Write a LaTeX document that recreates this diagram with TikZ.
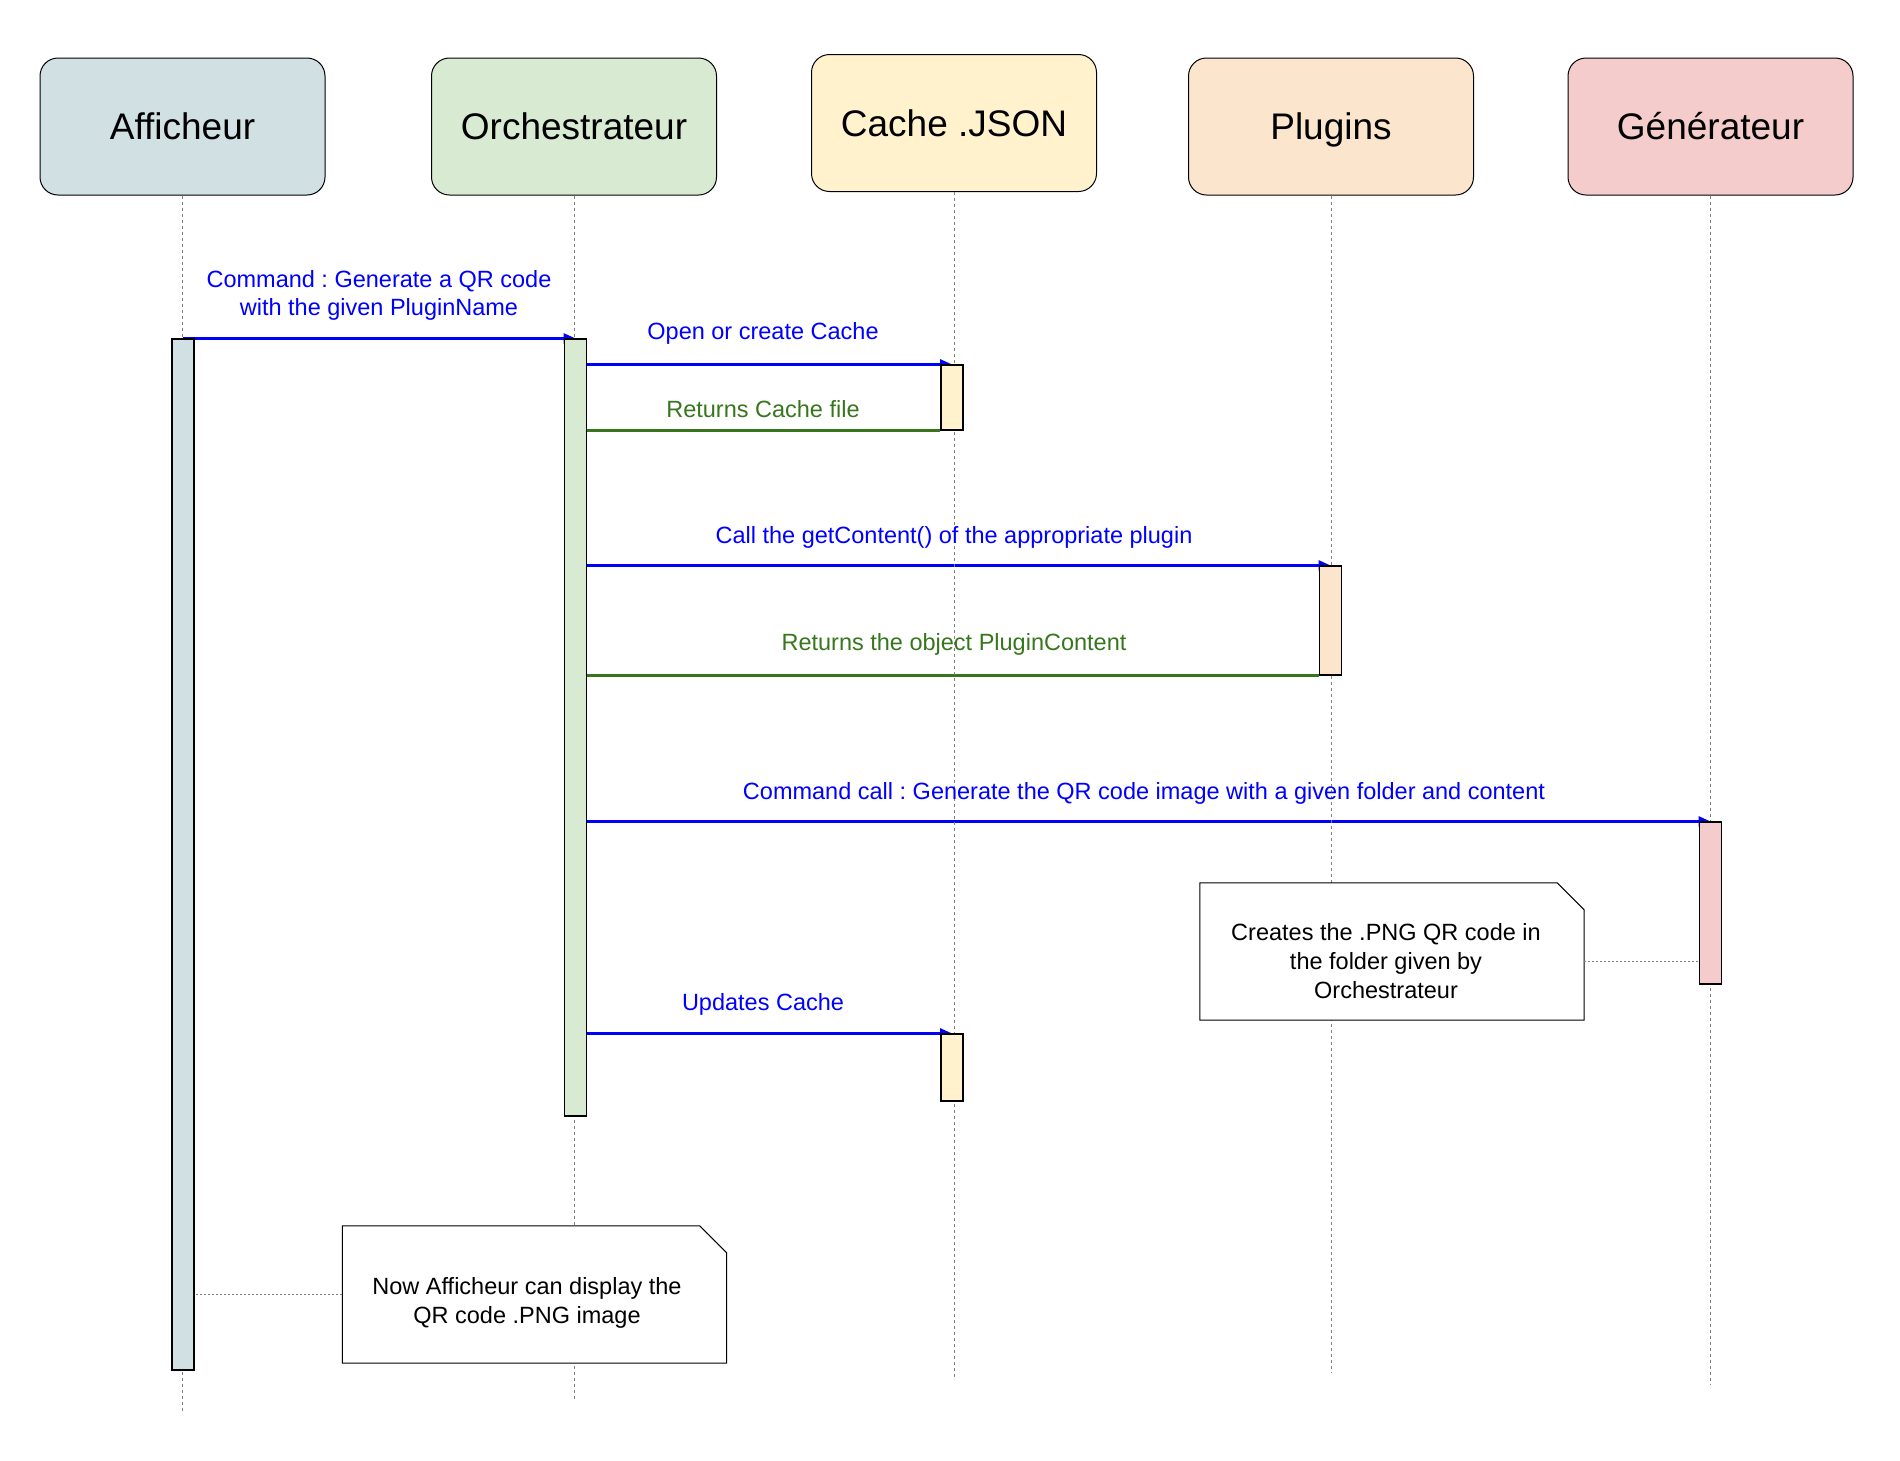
\documentclass[tikz,border=0pt]{standalone}
\usepackage{fontspec}
\setmainfont{Liberation Sans}
\frenchspacing
\usetikzlibrary{positioning,arrows.meta,calc,backgrounds}

\definecolor{affFill}{HTML}{D0E0E3}
\definecolor{orchFill}{HTML}{D9EAD3}
\definecolor{cacheFill}{HTML}{FFF2CC}
\definecolor{plugFill}{HTML}{FCE5CD}
\definecolor{genFill}{HTML}{F4CCCC}
\definecolor{replyGreen}{HTML}{38761D}

\begin{document}
\begin{tikzpicture}[x=1pt, y=-1pt]

% Define styles
\tikzstyle{actor} = [rectangle, rounded corners=18pt, draw=black, line width=1pt, text centered, text height=34pt, text depth=8pt, minimum width=285pt, minimum height=137pt, font=\fontsize{37}{44}\selectfont]
\tikzstyle{bar} = [rectangle, draw=black, line width=1.2pt, minimum width=22pt, inner sep=0pt]
\tikzstyle{lifeline} = [draw=gray, line width=1pt, dash pattern=on 3pt off 3pt]
\tikzstyle{call} = [draw=blue, line width=2.4pt, -{Triangle[length=12pt, width=10pt]}]
\tikzstyle{reply} = [draw=replyGreen, line width=2.4pt]
\tikzstyle{msg} = [text=blue, align=center, font=\fontsize{23.5}{28}\selectfont]
\tikzstyle{replymsg} = [msg, text=replyGreen]
\tikzstyle{note} = [rectangle, fill=white, minimum width=384pt, minimum height=137pt]
\tikzstyle{notetext} = [align=center, font=\fontsize{23.5}{29}\selectfont]
\tikzstyle{notelink} = [draw=gray, line width=1pt, dash pattern=on 2pt off 2pt]

\useasboundingbox (0,0) rectangle (1900,1460);

% Participants
\node [actor, fill=affFill] (afficheur) at (182.5,126.5) {Afficheur};
\node [actor, fill=orchFill] (orch) at (574,126.5) {Orchestrateur};
\node [actor, fill=cacheFill] (cache) at (954,123) {Cache .JSON};
\node [actor, fill=plugFill] (plugins) at (1331,126.5) {Plugins};
\node [actor, fill=genFill] (gen) at (1710.5,126.5) {Générateur};

% Lifelines
\coordinate (aff_end) at (182.5,1412);
\coordinate (orch_end) at (574,1400);
\coordinate (cache_end) at (954,1378);
\coordinate (plug_end) at (1331,1373);
\coordinate (gen_end) at (1710.5,1385);

\draw [lifeline] (afficheur.south) -- (aff_end);
\draw [lifeline] (orch.south) -- (orch_end);
\draw [lifeline] (cache.south) -- (cache_end);
\draw [lifeline] (plugins.south) -- (plug_end);
\draw [lifeline] (gen.south) -- (gen_end);

% Activation bars
\node [bar, fill=affFill, minimum height=1031pt] (aff_bar) at (183,854.5) {};
\node [bar, fill=orchFill, minimum height=777pt] (orch_bar) at (575.5,727.5) {};
\node [bar, fill=cacheFill, minimum height=65pt] (cache_act1) at (952,397.5) {};
\node [bar, fill=plugFill, minimum height=109pt] (plug_act) at (1330.5,620.5) {};
\node [bar, fill=genFill, minimum height=162pt] (gen_act) at (1710.5,903) {};
\node [bar, fill=cacheFill, minimum height=67pt] (cache_act2) at (952,1067.5) {};

% Messages (behind the bars)
\begin{pgfonlayer}{background}
\draw [call] (aff_bar.north) -- (orch_bar.north);
\draw [call] (orch_bar.east |- cache_act1.north) -- (cache_act1.north);
\draw [reply] (cache_act1.south west) -- (orch_bar.east |- cache_act1.south);
\draw [call] (orch_bar.east |- plug_act.north) -- (plug_act.north);
\draw [reply] (plug_act.south west) -- (orch_bar.east |- plug_act.south);
\draw [call] (orch_bar.east |- gen_act.north) -- (gen_act.north);
\draw [call] (orch_bar.east |- cache_act2.north) -- (cache_act2.north);
\end{pgfonlayer}

% Message labels
\node [msg] (lbl_cmd) at (379,295) {Command : Generate a QR code\\with the given PluginName};
\node [msg] (lbl_open) at (763,333) {Open or create Cache};
\node [replymsg] (lbl_file) at (763,409) {Returns Cache file};
\node [msg] (lbl_get) at (954,537) {Call the getContent() of the appropriate plugin};
\node [replymsg] (lbl_content) at (954,644) {Returns the object PluginContent};
\node [msg] (lbl_gen) at (1144,793) {Command call : Generate the QR code image with a given folder and content};
\node [msg] (lbl_update) at (763,1004) {Updates Cache};

% Notes
\node [note] (note1) at (1392,951.5) {};
\draw [line width=1pt] (note1.south west) -- (note1.north west) -- ([xshift=-27pt]note1.north east) -- ([yshift=-27pt]note1.north east) -- (note1.south east) -- cycle;
\node [notetext] (note1_text) at (1386,961) {Creates the .PNG QR code in\\the folder given by\\Orchestrateur};
\draw [notelink] ($(note1.east)+(0,10)$) -- ($(note1.east -| gen_act.west)+(0,10)$);

\node [note] (note2) at (534.5,1294.5) {};
\draw [line width=1pt] (note2.south west) -- (note2.north west) -- ([xshift=-27pt]note2.north east) -- ([yshift=-27pt]note2.north east) -- (note2.south east) -- cycle;
\node [notetext] (note2_text) at (527,1303) {Now Afficheur can display the\\QR code .PNG image};
\draw [notelink] (note2.west) -- (note2.west -| aff_bar.east);

\end{tikzpicture}
\end{document}
